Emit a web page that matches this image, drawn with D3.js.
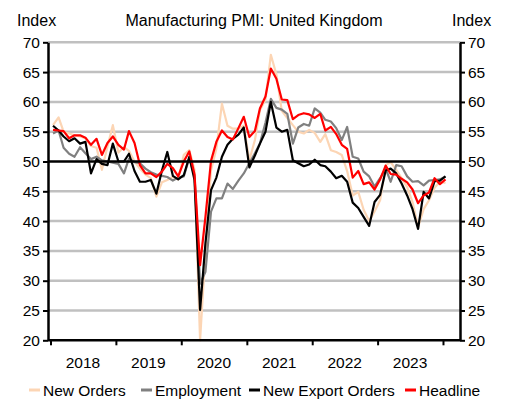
<!DOCTYPE html>
<html>
<head>
<meta charset="utf-8">
<script src="https://cdn.jsdelivr.net/npm/d3@7/dist/d3.min.js"></script>
<style>
  body { margin: 0; background: #fff; }
  text { font-family: "Liberation Sans", Arial, sans-serif; fill: #000; }
</style>
</head>
<body>
<svg id="chart" width="506" height="401"></svg>
<script>
// monthly data, Jan 2018 .. Jan 2024
const firstMonth = new Date(2018, 0, 15);
const years = ["2018", "2019", "2020", "2021", "2022", "2023"];
const yTicks = [20, 25, 30, 35, 40, 45, 50, 55, 60, 65, 70];

const newOrders = [
  56.1, 57.4, 55.0, 54.7, 54.4, 54.2, 53.9, 52.6, 52.3, 48.6, 52.5, 56.1,
  51.5, 52.4, 51.8, 50.0, 48.8, 47.8, 47.2, 44.1, 46.5, 46.9, 47.4, 47.0,
  51.1, 51.9, 48.6, 20.0, 35.0, 48.5, 52.2, 59.7, 56.0, 55.5, 55.5, 56.0,
  50.2, 53.6, 58.6, 60.4, 67.9, 64.6, 58.5, 57.3, 56.1, 55.0, 54.7, 55.3,
  54.8, 53.3, 54.6, 51.9, 51.6, 51.1, 48.4, 44.3, 44.9, 41.9, 40.0, 41.6,
  43.5, 49.4, 49.9, 48.6, 47.2, 45.7, 43.2, 39.0, 42.0, 43.5, 45.6, 46.6,
  46.4
];
const employment = [
  54.7, 55.2, 52.3, 51.3, 50.8, 52.4, 51.4, 50.4, 50.8, 50.2, 50.0, 49.8,
  49.6, 48.0, 50.5, 49.9, 49.7, 48.8, 48.2, 47.8, 47.6, 47.4, 46.8, 47.3,
  47.5, 50.6, 47.5, 29.5, 31.5, 41.6, 43.8, 43.8, 46.3, 45.4, 46.8, 48.0,
  49.7, 51.4, 53.0, 56.5, 60.5, 59.0, 58.7, 58.0, 53.0, 55.7, 56.3, 56.0,
  58.9, 58.2, 57.0, 56.7, 55.6, 53.6, 55.8, 50.8, 50.5, 48.3, 47.5, 45.8,
  47.2, 48.8, 46.6, 49.4, 49.2, 47.5, 46.6, 46.7, 46.0, 46.8, 46.9, 47.0,
  47.5
];
const exportOrders = [
  56.0, 55.2, 54.2, 53.4, 53.9, 53.0, 53.3, 48.0, 50.4, 49.6, 49.4, 53.0,
  50.0, 50.0, 51.3, 48.4, 46.6, 46.6, 46.9, 44.6, 48.5, 51.6, 47.6, 47.0,
  47.7, 50.8, 46.9, 25.1, 36.3, 45.2, 47.3, 50.8, 52.8, 53.8, 54.5, 55.7,
  49.0, 51.0, 53.0, 55.0, 60.0, 55.7, 55.0, 55.3, 50.2, 49.7, 49.2, 49.5,
  50.3, 49.4, 49.2, 48.3, 47.2, 47.6, 46.6, 43.1, 42.2, 40.7, 39.2, 43.2,
  44.4, 48.5, 48.8, 48.0, 46.3, 44.3, 42.0, 38.7, 44.9, 43.8, 46.7, 46.8,
  47.5
];
const headline = [
  55.3, 55.2, 55.1, 53.9, 54.4, 54.4, 54.0, 52.8, 53.8, 51.1, 53.1, 54.2,
  52.8, 52.0, 55.1, 53.1, 49.4, 48.0, 48.0, 47.4, 48.3, 49.6, 48.9, 47.5,
  50.0, 51.7, 47.8, 32.6, 40.7, 50.1, 53.3, 55.2, 54.1, 53.7, 55.6, 57.5,
  54.1, 55.1, 58.9, 60.9, 65.6, 63.9, 60.4, 60.3, 57.1, 57.8, 58.1, 57.9,
  57.3, 58.0, 55.2, 55.8, 54.6, 52.8, 52.1, 47.3, 48.4, 46.2, 46.5, 45.3,
  47.0, 49.3, 47.9, 47.8, 47.1, 46.5, 45.3, 43.0, 44.3, 44.8, 47.2, 46.2,
  47.0
];

const series = [
  { name: "New Orders", values: newOrders, color: "#fcd5b4" },
  { name: "Employment", values: employment, color: "#808080" },
  { name: "New Export Orders", values: exportOrders, color: "#000000" },
  { name: "Headline", values: headline, color: "#ff0000" }
];

const svg = d3.select("#chart");
const plotL = 48, plotR = 460, plotT = 42.3, plotB = 340.3;

const x = d3.scaleTime()
  .domain([new Date(2017, 11, 18), new Date(2024, 3, 5)])
  .range([plotL, plotR]);
const y = d3.scaleLinear().domain([20, 70]).range([plotB, plotT]);

const monthDate = i => d3.timeMonth.offset(firstMonth, i);

// gridlines
svg.append("g").selectAll("line")
  .data(yTicks.filter(v => v > 20 && v !== 50))
  .enter().append("line")
  .attr("x1", plotL).attr("x2", plotR)
  .attr("y1", d => y(d)).attr("y2", d => y(d))
  .attr("stroke", "#c0c0c0").attr("stroke-width", 2.5);

// series lines
const lineMaker = d3.line()
  .x((d, i) => x(monthDate(i)))
  .y(d => y(d));

svg.append("g").selectAll("path")
  .data(series)
  .enter().append("path")
  .attr("fill", "none")
  .attr("stroke", d => d.color)
  .attr("stroke-width", 2.2)
  .attr("stroke-linejoin", "round")
  .attr("d", d => lineMaker(d.values));

// 50 line
svg.append("line")
  .attr("x1", plotL).attr("x2", plotR)
  .attr("y1", y(50)).attr("y2", y(50))
  .attr("stroke", "#000").attr("stroke-width", 2.5);

// axes
const axL = svg.append("g").attr("transform", `translate(${plotL},0)`)
  .call(d3.axisLeft(y).tickValues(yTicks).tickSize(5).tickSizeOuter(0).tickPadding(3));
const axR = svg.append("g").attr("transform", `translate(${plotR},0)`)
  .call(d3.axisRight(y).tickValues(yTicks).tickSize(5).tickSizeOuter(0).tickPadding(3));
const yearStarts = d3.range(2018, 2025).map(yr => new Date(yr, 0, 1));
const axB = svg.append("g").attr("transform", `translate(0,${plotB})`)
  .call(d3.axisBottom(x).tickValues(yearStarts).tickSize(5).tickSizeOuter(0).tickFormat(""));

[axL, axR, axB].forEach(ax => {
  ax.select(".domain").attr("stroke", "#000").attr("stroke-width", 2.5);
  ax.selectAll(".tick line").attr("stroke", "#000").attr("stroke-width", 2);
  ax.selectAll(".tick text").attr("font-size", 15.5)
    .attr("font-family", "Liberation Sans, Arial, sans-serif").attr("fill", "#000");
});
axB.select(".domain").attr("d", `M${plotL},0H${plotR}`);

// year labels, centred on each year
svg.append("g").selectAll("text")
  .data(years)
  .enter().append("text")
  .attr("x", d => x(new Date(+d, 6, 1)))
  .attr("y", 362)
  .attr("text-anchor", "middle")
  .attr("dominant-baseline", "central")
  .attr("font-size", 15.5)
  .text(d => d);

// titles
svg.append("text").attr("x", 254).attr("y", 20)
  .attr("text-anchor", "middle").attr("dominant-baseline", "central")
  .attr("font-size", 16).text("Manufacturing PMI: United Kingdom");
svg.append("text").attr("x", 17).attr("y", 20)
  .attr("dominant-baseline", "central").attr("font-size", 16).text("Index");
svg.append("text").attr("x", 452).attr("y", 20)
  .attr("dominant-baseline", "central").attr("font-size", 16).text("Index");

// legend
const legendX = [29, 141, 249, 405];
const lg = svg.append("g").selectAll("g")
  .data(series)
  .enter().append("g")
  .attr("transform", (d, i) => `translate(${legendX[i]},390)`);
lg.append("line").attr("x1", 0).attr("x2", 11)
  .attr("stroke", d => d.color).attr("stroke-width", 3);
lg.append("text").attr("x", 14)
  .attr("dominant-baseline", "central").attr("font-size", 15.5)
  .text(d => d.name);
</script>
</body>
</html>
